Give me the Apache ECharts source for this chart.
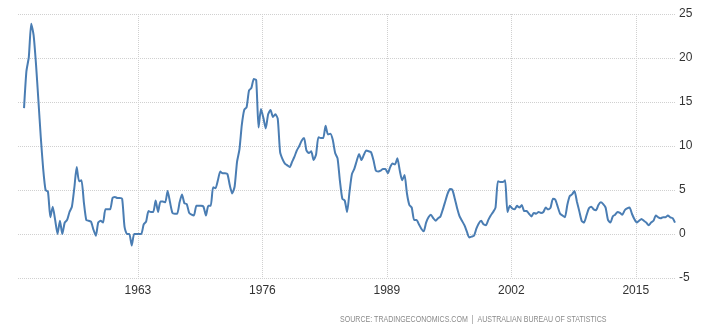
<!DOCTYPE html>
<html>
<head>
<meta charset="utf-8">
<script src="https://cdn.jsdelivr.net/npm/echarts@6/dist/echarts.min.js"></script>
<style>
  html, body { margin: 0; padding: 0; background: #fff; }
  #chart { width: 705px; height: 332px; }
</style>
</head>
<body>
<div id="chart"></div>
<script>
// Australia annual inflation rate (%), quarterly, 1951 Q1 - 2019 Q1
const startYear = 1951;
const inflation = [
  // 1951
  14.3, 18.5, 20.1, 23.9,
  // 1952
  22.6, 19.3, 15.2, 11.0,
  // 1953
  7.4, 5.0, 4.8, 1.9,
  // 1954
  3.1, 1.6, 0.0, 1.5,
  // 1955
  0.0, 1.3, 1.6, 2.5,
  // 1956
  3.1, 5.2, 7.6, 6.0,
  // 1957
  6.1, 3.6, 1.6, 1.5,
  // 1958
  1.4, 0.5, -0.2, 1.3,
  // 1959
  1.5, 1.3, 2.8, 2.8,
  // 1960
  2.8, 4.1, 4.2, 4.1,
  // 1961
  4.1, 4.0, 0.8, 0.0,
  // 1962
  0.0, -1.3, 0.0, 0.0,
  // 1963
  0.0, 0.0, 1.1, 1.4,
  // 1964
  2.6, 2.5, 2.5, 3.8,
  // 1965
  2.5, 3.7, 3.7, 3.6,
  // 1966
  4.9, 3.6, 2.4, 2.3,
  // 1967
  2.3, 3.6, 4.5, 3.5,
  // 1968
  3.4, 2.4, 2.2, 2.1,
  // 1969
  3.2, 3.2, 3.2, 3.1,
  // 1970
  2.1, 3.2, 3.2, 5.3,
  // 1971
  5.2, 6.1, 7.1, 6.9,
  // 1972
  6.9, 6.8, 5.5, 4.6,
  // 1973
  5.4, 8.2, 9.6, 12.4,
  // 1974
  14.1, 14.4, 16.3, 16.6,
  // 1975
  17.6, 17.5, 12.1, 14.2,
  // 1976
  13.2, 12.0, 13.6, 14.1,
  // 1977
  13.3, 13.6, 13.1, 9.3,
  // 1978
  8.5, 8.0, 7.8, 7.6,
  // 1979
  8.2, 8.8, 9.5, 10.0,
  // 1980
  10.6, 10.9, 9.5, 9.2,
  // 1981
  9.4, 8.4, 9.0, 11.0,
  // 1982
  10.9, 10.9, 12.3, 11.3,
  // 1983
  11.4, 10.7, 9.2, 8.6,
  // 1984
  6.0, 4.0, 3.8, 2.5,
  // 1985
  4.8, 6.8, 7.4, 8.3,
  // 1986
  9.1, 8.4, 9.0, 9.5,
  // 1987
  9.4, 9.3, 8.4, 7.2,
  // 1988
  7.1, 7.2, 7.4, 7.4,
  // 1989
  6.9, 7.6, 8.0, 7.9,
  // 1990
  8.6, 7.2, 6.1, 6.7,
  // 1991
  4.6, 3.3, 3.0, 1.6,
  // 1992
  1.6, 1.1, 0.6, 0.3,
  // 1993
  1.3, 1.9, 2.2, 1.8,
  // 1994
  1.5, 1.8, 2.0, 2.8,
  // 1995
  3.7, 4.6, 5.1, 5.0,
  // 1996
  4.0, 2.9, 2.0, 1.5,
  // 1997
  1.0, 0.3, -0.4, -0.3,
  // 1998
  -0.2, 0.6, 1.2, 1.5,
  // 1999
  1.1, 1.0, 1.6, 2.1,
  // 2000
  2.5, 3.0, 6.0, 5.9,
  // 2001
  5.9, 6.1, 2.5, 3.2,
  // 2002
  2.9, 2.8, 3.2, 3.0,
  // 2003
  3.3, 2.6, 2.6, 2.3,
  // 2004
  2.0, 2.4, 2.3, 2.5,
  // 2005
  2.4, 2.5, 3.0, 2.8,
  // 2006
  3.0, 4.0, 3.9, 3.1,
  // 2007
  2.3, 2.1, 1.9, 3.3,
  // 2008
  4.3, 4.5, 4.9, 3.7,
  // 2009
  2.6, 1.5, 1.3, 2.1,
  // 2010
  2.9, 3.1, 2.8, 2.7,
  // 2011
  3.3, 3.6, 3.4, 3.0,
  // 2012
  1.6, 1.3, 2.0, 2.2,
  // 2013
  2.5, 2.4, 2.2, 2.7,
  // 2014
  2.9, 3.0, 2.3, 1.7,
  // 2015
  1.3, 1.5, 1.7, 1.5,
  // 2016
  1.3, 1.0, 1.3, 1.5,
  // 2017
  2.1, 1.9, 1.8, 1.9,
  // 2018
  1.9, 2.1, 1.9, 1.8,
  // 2019
  1.3
];
const yearTicks = [1963, 1976, 1989, 2002, 2015];
const valueTicks = [-5, 0, 5, 10, 15, 20, 25];
const sourceText = 'SOURCE: TRADINGECONOMICS.COM  |  AUSTRALIAN BUREAU OF STATISTICS';

// Each quarter is placed on a decimal-year scale
const seriesData = inflation.map((v, i) => [startYear + i * 0.25 + 0.1, v]);

const labelFont = '"Liberation Sans", Arial, sans-serif';

const chart = echarts.init(document.getElementById('chart'), null, { renderer: 'canvas' });
chart.setOption({
  animation: false,
  backgroundColor: '#ffffff',
  grid: { left: 18, right: 30, top: 14, bottom: 54, containLabel: false },
  xAxis: {
    type: 'value',
    min: 1950.47,
    max: 2019.1,
    axisLine: { show: false },
    axisTick: { show: false, customValues: yearTicks },
    axisLabel: {
      customValues: yearTicks,
      color: '#333',
      fontSize: 12,
      fontFamily: labelFont,
      margin: 7,
      formatter: v => String(v)
    },
    splitLine: { show: true, lineStyle: { color: '#d0d0d0', type: [1, 1], width: 1 } }
  },
  yAxis: {
    type: 'value',
    position: 'right',
    min: valueTicks[0],
    max: valueTicks[valueTicks.length - 1],
    interval: 5,
    axisLine: { show: false },
    axisTick: { show: false },
    axisLabel: {
      color: '#333',
      fontSize: 12,
      fontFamily: labelFont,
      margin: 4,
      align: 'left'
    },
    splitLine: { show: true, lineStyle: { color: '#d0d0d0', type: [1, 1], width: 1 } }
  },
  series: [{
    type: 'line',
    data: seriesData,
    showSymbol: false,
    smooth: 0.2,
    lineStyle: { color: '#4a7db3', width: 2 },
    itemStyle: { color: '#4a7db3' }
  }],
  graphic: [{
    type: 'text',
    x: 340,
    y: 315,
    scaleX: 0.83,
    style: {
      text: sourceText,
      fill: '#8a8a8a',
      font: '8.5px ' + labelFont
    }
  }]
});
</script>
</body>
</html>
